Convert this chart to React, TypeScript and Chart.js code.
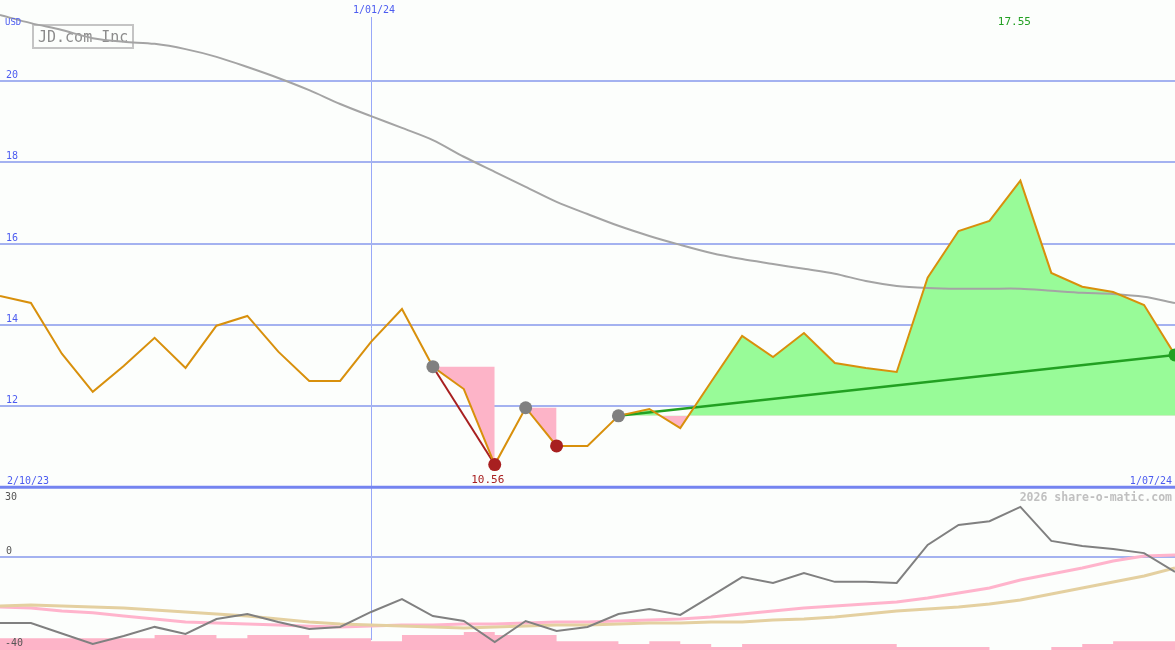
import React, { useEffect, useRef } from "react";
import { Chart, registerables } from "chart.js";

Chart.register(...registerables);

// ---------- data ----------
const DATES = [
  "9/10/23", "16/10/23", "23/10/23", "30/10/23", "6/11/23", "13/11/23", "20/11/23", "27/11/23",
  "4/12/23", "11/12/23", "18/12/23", "25/12/23", "1/01/24", "8/01/24", "15/01/24", "22/01/24",
  "29/01/24", "5/02/24", "12/02/24", "19/02/24", "26/02/24", "4/03/24", "11/03/24", "18/03/24",
  "25/03/24", "1/04/24", "8/04/24", "15/04/24", "22/04/24", "29/04/24", "6/05/24", "13/05/24",
  "20/05/24", "27/05/24", "3/06/24", "10/06/24", "17/06/24", "24/06/24", "1/07/24",
];

const PRICE = [
  14.71, 14.54, 13.29, 12.35, 12.99, 13.68, 12.94, 13.98, 14.22, 13.34, 12.62, 12.62, 13.58,
  14.39, 12.97, 12.42, 10.56, 11.96, 11.02, 11.02, 11.76, 11.93, 11.46, 12.6, 13.73, 13.21,
  13.8, 13.06, 12.94, 12.84, 15.16, 16.31, 16.56, 17.55, 15.28, 14.94, 14.81, 14.49, 13.26,
];

const MOVING_AVG = [
  21.63, 21.43, 21.26, 21.06, 20.97, 20.92, 20.79, 20.6, 20.35, 20.08, 19.78, 19.44, 19.14,
  18.85, 18.55, 18.14, 17.77, 17.4, 17.03, 16.73, 16.44, 16.19, 15.97, 15.77, 15.62, 15.5,
  15.38, 15.26, 15.08, 14.96, 14.91, 14.89, 14.89, 14.89, 14.84, 14.79, 14.76, 14.69, 14.54,
];

const OSC = [
  -29.1, -29.1, -33.7, -38.3, -34.8, -30.8, -33.9, -27.3, -25.1, -28.6, -31.7, -30.8, -24.2,
  -18.5, -26.0, -28.2, -37.5, -28.2, -32.6, -30.8, -25.1, -22.9, -25.5, -17.2, -8.8, -11.4,
  -7.0, -10.9, -10.9, -11.4, 5.4, 14.2, 15.9, 22.2, 7.2, 4.9, 3.6, 1.8, -6.5,
];

const OSC_SIGNAL = [
  -22.0, -22.4, -23.8, -24.6, -26.0, -27.3, -28.6, -29.1, -29.5, -30.0, -30.5, -30.8, -30.4,
  -30.0, -30.0, -29.5, -29.5, -29.1, -28.6, -28.6, -28.2, -27.7, -27.3, -26.4, -25.1, -23.8,
  -22.4, -21.6, -20.7, -19.8, -18.0, -15.8, -13.6, -10.1, -7.4, -4.8, -1.7, 0.5, 1.0,
];

const OSC_SLOW = [
  -21.6, -21.1, -21.6, -22.0, -22.4, -23.3, -24.2, -25.1, -26.0, -27.3, -28.6, -29.5, -30.0,
  -30.4, -30.8, -31.3, -30.8, -30.4, -30.0, -30.0, -29.5, -29.1, -29.1, -28.6, -28.6, -27.7,
  -27.3, -26.4, -25.1, -23.8, -22.9, -22.0, -20.7, -18.9, -16.3, -13.6, -11.0, -8.3, -4.8,
];

const VOLUME_BARS = [
  -35.8, -35.8, -35.8, -35.8, -35.8, -34.4, -34.4, -35.8, -34.4, -34.4, -35.8, -35.8, -37.1,
  -34.4, -34.4, -33.1, -34.4, -34.4, -37.1, -37.1, -38.4, -37.1, -38.4, -39.7, -38.4, -38.4,
  -38.4, -38.4, -38.4, -39.7, -39.7, -39.7, -41, -41, -39.7, -38.4, -37.1, -37.1, -37.1,
];

const UPPER_TICKS = [12, 14, 16, 18, 20];
const LOWER_GRID = [0];
const LOWER_TICK_LABELS = ["30", "0", "-40"];
const DATE_MARK_INDEX = 12;
const DATE_MARK_LABEL = "1/01/24";
const RANGE_START_LABEL = "2/10/23";
const RANGE_END_LABEL = "1/07/24";
const TITLE = "JD.com Inc";
const CURRENCY = "USD";
const CREDIT = "2026 share-o-matic.com";

const LOW_SIGNALS = [
  { from: 14, to: 16 },
  { from: 17, to: 18 },
];
const HIGH_SIGNAL = { from: 20, to: 38 };
const GRAY_MARKERS = [14, 17, 20];
const RED_MARKERS = [16, 18];
const GREEN_MARKERS = [38];
const MIN_INDEX = 16;
const MAX_INDEX = 33;

// ---------- styles ----------
const BG = "#fcfefc";
const GRID = "#a4b2f0";
const AXIS = "#7484f0";
const BLUE_TEXT = "#4c5cf0";
const ORANGE = "#d8900c";
const MA_GRAY = "#a4a4a4";
const PINK = "#fdb4c8";
const LIGHT_GREEN = "#98fb98";
const DARK_GREEN = "#22a022";
const DARK_RED = "#a82020";
const MARK_GRAY = "#808080";
const MONO = '"DejaVu Sans Mono", "Liberation Mono", monospace';

function pick(arr: number[], idx: number[]): (number | null)[] {
  return arr.map((v, i) => (idx.includes(i) ? v : null));
}
function range(arr: number[], from: number, to: number): (number | null)[] {
  return arr.map((v, i) => (i >= from && i <= to ? v : null));
}

const overlay = {
  id: "overlay",
  beforeDatasetsDraw(chart: any) {
    const { ctx } = chart;
    const x = chart.scales.x;
    const y = chart.scales.y;
    const y2 = chart.scales.y2;
    const W = chart.width;
    ctx.save();
    const vx = Math.round(x.getPixelForValue(DATE_MARK_INDEX)) + 0.5;
    ctx.strokeStyle = "#98a8f8";
    ctx.lineWidth = 1;
    ctx.beginPath();
    ctx.moveTo(vx, 17);
    ctx.lineTo(vx, 640);
    ctx.stroke();
    ctx.strokeStyle = GRID;
    ctx.lineWidth = 2;
    for (const t of UPPER_TICKS) {
      const py = Math.round(y.getPixelForValue(t));
      ctx.beginPath();
      ctx.moveTo(0, py);
      ctx.lineTo(W, py);
      ctx.stroke();
    }
    for (const t of LOWER_GRID) {
      const py = Math.round(y2.getPixelForValue(t));
      ctx.beginPath();
      ctx.moveTo(0, py);
      ctx.lineTo(W, py);
      ctx.stroke();
    }
    const ay = y.getPixelForValue(10);
    ctx.strokeStyle = AXIS;
    ctx.lineWidth = 3;
    ctx.beginPath();
    ctx.moveTo(0, ay);
    ctx.lineTo(W, ay);
    ctx.stroke();
    ctx.strokeStyle = "#c4c4c4";
    ctx.lineWidth = 2;
    ctx.strokeRect(33, 25, 100, 23);
    ctx.fillStyle = "#8c8c8c";
    ctx.font = `15px ${MONO}`;
    ctx.textAlign = "left";
    ctx.textBaseline = "alphabetic";
    ctx.fillText(TITLE, 38, 42);
    ctx.restore();
  },
  afterDatasetsDraw(chart: any) {
    const { ctx } = chart;
    const x = chart.scales.x;
    const y = chart.scales.y;
    const y2 = chart.scales.y2;
    const W = chart.width;
    ctx.save();
    ctx.textBaseline = "alphabetic";
    ctx.fillStyle = BLUE_TEXT;
    ctx.font = `9px ${MONO}`;
    ctx.textAlign = "left";
    ctx.fillText(CURRENCY, 5, 25);
    ctx.font = `10px ${MONO}`;
    for (const t of UPPER_TICKS) {
      const py = Math.round(y.getPixelForValue(t));
      ctx.fillText(String(t), 6, py - 3);
    }
    ctx.textAlign = "center";
    ctx.fillText(DATE_MARK_LABEL, x.getPixelForValue(DATE_MARK_INDEX) + 3, 13);
    ctx.textAlign = "left";
    ctx.fillText(RANGE_START_LABEL, 7, 484);
    ctx.textAlign = "right";
    ctx.fillText(RANGE_END_LABEL, W - 3, 484);
    ctx.fillStyle = "#c0c0c0";
    ctx.font = `bold 11.5px ${MONO}`;
    ctx.fillText(CREDIT, W - 3, 501);
    ctx.textAlign = "center";
    ctx.font = `11px ${MONO}`;
    ctx.fillStyle = DARK_GREEN;
    ctx.fillText(PRICE[MAX_INDEX].toFixed(2), x.getPixelForValue(MAX_INDEX) - 6, 25);
    ctx.fillStyle = DARK_RED;
    ctx.fillText(PRICE[MIN_INDEX].toFixed(2), x.getPixelForValue(MIN_INDEX) - 7, 483);
    ctx.textAlign = "left";
    ctx.fillStyle = "#555555";
    ctx.font = `10px ${MONO}`;
    ctx.fillText(LOWER_TICK_LABELS[0], 5, 500);
    ctx.fillText(LOWER_TICK_LABELS[1], 6, Math.round(y2.getPixelForValue(0)) - 3);
    ctx.fillText(LOWER_TICK_LABELS[2], 5, 646);
    ctx.restore();
  },
};

export default function App() {
  const ref = useRef<HTMLCanvasElement | null>(null);

  useEffect(() => {
    document.body.style.margin = "0";
    document.body.style.background = BG;
    const canvas = ref.current;
    if (!canvas) return;

    const lowFills = LOW_SIGNALS.map((s) => ({
      data: range(PRICE, s.from, s.to),
      borderColor: "rgba(0,0,0,0)",
      borderWidth: 0,
      pointRadius: 0,
      fill: { target: { value: PRICE[s.from] }, above: PINK, below: PINK },
      order: 20,
      yAxisID: "y",
    }));

    const highFill = {
      data: range(PRICE, HIGH_SIGNAL.from, HIGH_SIGNAL.to),
      borderColor: "rgba(0,0,0,0)",
      borderWidth: 0,
      pointRadius: 0,
      fill: { target: { value: PRICE[HIGH_SIGNAL.from] }, above: LIGHT_GREEN, below: PINK },
      order: 20,
      yAxisID: "y",
    };

    const chart = new Chart(canvas, {
      type: "line",
      data: {
        labels: DATES,
        datasets: [
          {
            data: pick(PRICE, GRAY_MARKERS),
            showLine: false,
            pointRadius: 6.5,
            pointBackgroundColor: MARK_GRAY,
            pointBorderWidth: 0,
            order: 0,
            yAxisID: "y",
          },
          {
            data: pick(PRICE, RED_MARKERS),
            showLine: false,
            pointRadius: 6.5,
            pointBackgroundColor: DARK_RED,
            pointBorderWidth: 0,
            order: 0,
            yAxisID: "y",
          },
          {
            data: pick(PRICE, GREEN_MARKERS),
            showLine: false,
            pointRadius: 6.5,
            pointBackgroundColor: DARK_GREEN,
            pointBorderWidth: 0,
            order: 0,
            yAxisID: "y",
          },
          {
            data: pick(PRICE, [LOW_SIGNALS[0].from, LOW_SIGNALS[0].to]),
            spanGaps: true,
            borderColor: DARK_RED,
            borderWidth: 2,
            pointRadius: 0,
            fill: false,
            order: 2,
            yAxisID: "y",
          },
          {
            data: pick(PRICE, [HIGH_SIGNAL.from, HIGH_SIGNAL.to]),
            spanGaps: true,
            borderColor: DARK_GREEN,
            borderWidth: 2.5,
            pointRadius: 0,
            fill: false,
            order: 3,
            yAxisID: "y",
          },
          {
            data: PRICE,
            borderColor: ORANGE,
            borderWidth: 2,
            pointRadius: 0,
            fill: false,
            order: 1,
            yAxisID: "y",
          },
          {
            data: MOVING_AVG,
            borderColor: MA_GRAY,
            borderWidth: 2,
            pointRadius: 0,
            tension: 0.3,
            fill: false,
            order: 4,
            yAxisID: "y",
          },
          ...lowFills,
          highFill,
          {
            data: OSC,
            borderColor: "#808080",
            borderWidth: 2,
            pointRadius: 0,
            fill: false,
            order: 5,
            yAxisID: "y2",
          },
          {
            data: OSC_SIGNAL,
            borderColor: "#ffb4cc",
            borderWidth: 3,
            pointRadius: 0,
            fill: false,
            order: 7,
            yAxisID: "y2",
          },
          {
            data: OSC_SLOW,
            borderColor: "#e4d0a0",
            borderWidth: 3,
            pointRadius: 0,
            fill: false,
            order: 6,
            yAxisID: "y2",
          },
          {
            data: VOLUME_BARS,
            stepped: "before",
            borderColor: "rgba(0,0,0,0)",
            borderWidth: 0,
            pointRadius: 0,
            backgroundColor: PINK,
            fill: "start",
            order: 30,
            yAxisID: "y2",
          },
        ] as any,
      },
      options: {
        animation: false,
        responsive: false,
        maintainAspectRatio: false,
        layout: { padding: 0, autoPadding: false },
        events: [],
        plugins: {
          legend: { display: false },
          tooltip: { enabled: false },
        },
        elements: { line: { tension: 0 }, point: { radius: 0 } },
        scales: {
          x: { display: false, offset: false },
          y: { display: false, min: 5.994, max: 22 },
          y2: { display: false, min: -41, max: 246.1 },
        },
      } as any,
      plugins: [overlay],
    });

    return () => chart.destroy();
  }, []);

  return (
    <div style={{ width: 1175, height: 650, background: BG, position: "relative" }}>
      <canvas ref={ref} width={1175} height={650} style={{ width: 1175, height: 650, display: "block" }} />
    </div>
  );
}
